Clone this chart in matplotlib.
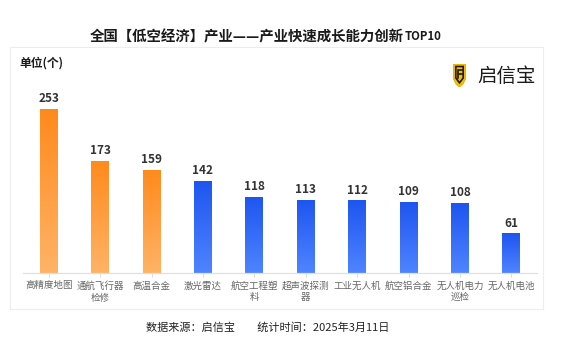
import numpy as np
import matplotlib
matplotlib.use("Agg")
import matplotlib.pyplot as plt
from matplotlib.patches import Rectangle, Polygon
from matplotlib.colors import LinearSegmentedColormap

plt.rcParams['font.family'] = ['Noto Sans CJK SC', 'DejaVu Sans']

categories = ['高精度地图', '通航飞行器\n检修', '高温合金', '激光雷达', '航空工程塑\n料',
              '超声波探测\n器', '工业无人机', '航空铝合金', '无人机电力\n巡检', '无人机电池']
values = [253, 173, 159, 142, 118, 113, 112, 109, 108, 61]
n_orange = 3

title = '全国【低空经济】产业——产业快速成长能力创新'
title_tail = 'TOP10'
unit_label = '单位(个)'
footer = '数据来源：启信宝　　统计时间：2025年3月11日'
brand = '启信宝'

W, H = 564, 352
fig = plt.figure(figsize=(W / 100, H / 100), dpi=100)
fig.patch.set_facecolor('white')


def fx(px):
    return px / W


def fy(py):
    return 1 - py / H


# chart panel with faint border
fig.patches.append(Rectangle((fx(10), fy(309)), fx(543) - fx(10), fy(47) - fy(309),
                             transform=fig.transFigure, facecolor='none',
                             edgecolor='#EDEDED', linewidth=0.8, zorder=0))

ax = fig.add_axes([fx(23), fy(273), fx(537) - fx(23), fy(100) - fy(273)])
ax.set_facecolor('none')
x = np.arange(len(values))

orange = LinearSegmentedColormap.from_list('orange', ['#FFB366', '#FF8A1C'])
blue = LinearSegmentedColormap.from_list('blue', ['#4F84FF', '#1E55F0'])
grad = np.linspace(0, 1, 256).reshape(-1, 1)

bars = ax.bar(x, values, width=0.35, color='none', edgecolor='none')
for i, (b, v) in enumerate(zip(bars, values)):
    cmap = orange if i < n_orange else blue
    im = ax.imshow(grad, cmap=cmap, origin='lower', aspect='auto',
                   extent=(b.get_x(), b.get_x() + b.get_width(), 0, v), zorder=2)
    im.set_clip_path(b)
    ax.text(b.get_x() + b.get_width() / 2, v + 6, str(v), ha='center', va='bottom',
            fontsize=8.5, fontweight='bold', color='#333333')

ax.set_xlim(-0.5, len(values) - 0.5)
ax.set_ylim(0, 267)
ax.set_xticks(x)
ax.set_xticklabels(categories, fontsize=6.8, color='#666666', linespacing=1.35)
ax.tick_params(axis='x', length=3, color='#DDDDDD', pad=3)
ax.set_yticks([])
for s in ['top', 'right', 'left']:
    ax.spines[s].set_visible(False)
ax.spines['bottom'].set_color('#E0E0E0')
ax.spines['bottom'].set_linewidth(0.9)

# title with smaller TOP10 tail
t = fig.text(fx(442) - 0.068, fy(37), title, ha='right', va='center',
             fontsize=10.4, fontweight='bold', color='#1A1A1A')
fig.canvas.draw()
bb = t.get_window_extent()
fig.text(bb.x1 / W + 0.001, bb.y0 / H + 0.004, title_tail, ha='left', va='bottom',
         fontsize=8.2, fontweight='bold', color='#1A1A1A')

fig.text(fx(19), fy(63), unit_label, ha='left', va='center', fontsize=8.5,
         fontweight='bold', color='#1A1A1A')

# brand logo: yellow shield with dark inner mark
lax = fig.add_axes([fx(453), fy(87), fx(466) - fx(453), fy(64) - fy(87)])
lax.set_xlim(0, 13)
lax.set_ylim(0, 23)
lax.axis('off')
shield = [(0.5, 23), (12.5, 23), (12.5, 8), (10, 3), (6.5, 0), (3, 3), (0.5, 8)]
lax.add_patch(Polygon(shield, closed=True, facecolor='#F5C000', edgecolor='#E2A900', lw=0.6))
inner = [(2.8, 20.5), (10.2, 20.5), (10.2, 9), (6.5, 4.2), (2.8, 9)]
lax.add_patch(Polygon(inner, closed=True, facecolor='none', edgecolor='#1A1A1A', lw=1.2))
for yy in (16.8, 13.2):
    lax.plot([5.2, 10.2], [yy, yy], color='#1A1A1A', lw=1.2, solid_capstyle='butt')
lax.plot([5.2, 5.2], [17.5, 9.5], color='#1A1A1A', lw=1.2)
fig.text(fx(477), fy(76), brand, ha='left', va='center', fontsize=14, color='#1A1A1A')

fig.text(fx(268), fy(327), footer, ha='center', va='center', fontsize=8,
         color='#222222')

fig.savefig('out.png', dpi=100)
